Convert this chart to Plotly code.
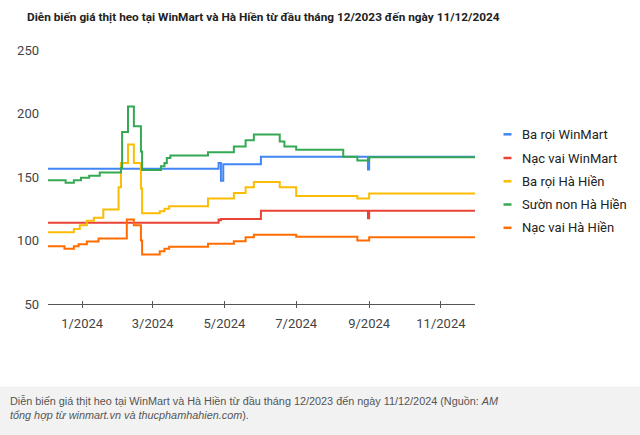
import plotly.graph_objects as go

# ---------------- data ----------------
tick_vals = ["2024-01-01", "2024-03-01", "2024-05-01", "2024-07-01", "2024-09-01", "2024-11-01"]
tick_text = ["1/2024", "3/2024", "5/2024", "7/2024", "9/2024", "11/2024"]

series_names = ["Ba rọi WinMart", "Nạc vai WinMart", "Ba rọi Hà Hiền", "Sườn non Hà Hiền", "Nạc vai Hà Hiền"]
series_colors = ["#4285F4", "#EA4335", "#FBBC04", "#34A853", "#FF6D01"]

ba_roi_wm_dates = ["2023-12-03", "2024-04-26", "2024-04-28", "2024-04-30", "2024-06-01",
                   "2024-08-31", "2024-09-01", "2024-11-30"]
ba_roi_wm_vals = [156.5, 161, 147, 160, 166, 156, 166, 166]

nac_vai_wm_dates = ["2023-12-03", "2024-04-26", "2024-04-27", "2024-04-28", "2024-06-01",
                    "2024-08-31", "2024-09-01", "2024-11-30"]
nac_vai_wm_vals = [114, 116.5, 116, 117, 123.5, 117.5, 123.5, 123.5]

ba_roi_hh_dates = ["2023-12-03", "2023-12-25", "2023-12-30", "2024-01-05", "2024-01-11", "2024-01-19",
                   "2024-02-01", "2024-02-03", "2024-02-09", "2024-02-14", "2024-02-20", "2024-02-21",
                   "2024-03-07", "2024-03-11", "2024-03-15", "2024-04-17", "2024-05-09", "2024-05-19",
                   "2024-05-26", "2024-06-17", "2024-07-01", "2024-08-22", "2024-09-01", "2024-11-30"]
ba_roi_hh_vals = [106.5, 109, 112, 115.5, 118, 124.5,
                  142, 161, 175.5, 161, 141, 121.5,
                  123, 125, 127, 133, 137.5, 142,
                  146, 142, 135, 133, 137, 137]

suon_non_hh_dates = ["2023-12-03", "2023-12-18", "2023-12-25", "2023-12-31", "2024-01-07", "2024-01-16",
                     "2024-02-03", "2024-02-04", "2024-02-09", "2024-02-14", "2024-02-20", "2024-02-21",
                     "2024-03-08", "2024-03-11", "2024-03-13", "2024-03-16", "2024-04-17", "2024-05-09",
                     "2024-05-19", "2024-05-26", "2024-06-17", "2024-06-21", "2024-07-01", "2024-08-10",
                     "2024-08-22", "2024-09-01", "2024-11-30"]
suon_non_hh_vals = [147.5, 145.5, 147.5, 149.5, 151, 153.5,
                    157, 185.5, 205.5, 190, 170, 155.5,
                    158.5, 161, 165, 167, 169.5, 174,
                    179, 183.5, 178, 174, 171.5, 166,
                    163, 165.5, 165.5]

nac_vai_hh_dates = ["2023-12-03", "2023-12-17", "2023-12-25", "2023-12-29", "2024-01-05", "2024-01-15",
                    "2024-02-08", "2024-02-14", "2024-02-20", "2024-02-21", "2024-03-07", "2024-03-11",
                    "2024-03-15", "2024-04-17", "2024-05-09", "2024-05-19", "2024-05-26", "2024-07-01",
                    "2024-08-22", "2024-09-01", "2024-11-30"]
nac_vai_hh_vals = [95.5, 93.5, 95.5, 97, 99.3, 101.5,
                   116.5, 112, 100, 89, 91.5, 93.5,
                   95, 97.5, 99.5, 102.5, 104.5, 103,
                   100, 102.5, 102.5]

all_dates = [ba_roi_wm_dates, nac_vai_wm_dates, ba_roi_hh_dates, suon_non_hh_dates, nac_vai_hh_dates]
all_vals = [ba_roi_wm_vals, nac_vai_wm_vals, ba_roi_hh_vals, suon_non_hh_vals, nac_vai_hh_vals]

title_text = "Diễn biến giá thịt heo tại WinMart và Hà Hiền từ đầu tháng 12/2023 đến ngày 11/12/2024"
caption_text = ("Diễn biến giá thịt heo tại WinMart và Hà Hiền từ đầu tháng 12/2023 đến ngày 11/12/2024 (Nguồn: <i>AM</i>"
                "<br><i>tổng hợp từ winmart.vn và thucphamhahien.com</i>).")

# ---------------- figure ----------------
W, H = 640, 435
ML, MR, MT, MB = 48, 165, 50, 131
PW, PH = W - ML - MR, H - MT - MB


def px_x(px):
    return (px - ML) / PW


def px_y(py):
    return (H - MB - py) / PH


fig = go.Figure()
for name, color, d, v in zip(series_names, series_colors, all_dates, all_vals):
    fig.add_trace(go.Scatter(x=d, y=v, mode="lines", name=name,
                             line=dict(color=color, width=2, shape="hv"),
                             showlegend=False, hoverinfo="skip"))

# manual legend
legend_y = [134.3, 158, 181.3, 204.5, 227.8]
shapes = []
annotations = []
for name, color, ly in zip(series_names, series_colors, legend_y):
    shapes.append(dict(type="line", xref="paper", yref="paper",
                       x0=px_x(503.5), x1=px_x(511.5), y0=px_y(ly), y1=px_y(ly),
                       line=dict(color=color, width=2.5)))
    annotations.append(dict(xref="paper", yref="paper", x=px_x(519.5), y=px_y(ly),
                            xanchor="left", yanchor="middle", showarrow=False,
                            text=name, font=dict(family="Roboto", size=13, color="#222222")))

# caption box
shapes.append(dict(type="rect", xref="paper", yref="paper", layer="below",
                   x0=px_x(0), x1=px_x(640), y0=px_y(386.5), y1=px_y(436),
                   fillcolor="#f2f2f2", line=dict(width=0)))
annotations.append(dict(xref="paper", yref="paper", x=px_x(8), y=px_y(407.5),
                        xanchor="left", yanchor="middle", align="left", showarrow=False,
                        text=caption_text,
                        font=dict(family="Liberation Sans", size=10.85, color="#555555")))

fig.update_layout(
    width=W, height=H,
    margin=dict(l=ML, r=MR, t=MT, b=MB, pad=0),
    paper_bgcolor="white", plot_bgcolor="white",
    title=dict(text="<b>" + title_text + "</b>", xref="container", yref="container",
               x=27 / W, y=1 - 17 / H, xanchor="left", yanchor="middle",
               font=dict(family="Roboto", size=11.8, color="#222222")),
    shapes=shapes, annotations=annotations,
    xaxis=dict(type="date", range=["2023-12-03", "2024-11-30"],
               tickmode="array", tickvals=tick_vals, ticktext=tick_text,
               showgrid=False, zeroline=False,
               showline=True, linecolor="#555555", linewidth=1,
               ticks="outside", ticklen=3, tickcolor="#555555", tickwidth=1,
               minor=dict(tickmode="array", tickvals=tick_vals, ticks="inside",
                          ticklen=3, tickcolor="#555555", tickwidth=1, showgrid=False),
               tickfont=dict(family="Roboto", size=13, color="#444444"),
               ticklabelstandoff=4),
    yaxis=dict(range=[50, 250], tickmode="array", tickvals=[50, 100, 150, 200, 250],
               showgrid=False, zeroline=False, showline=False, ticks="",
               tickfont=dict(family="Roboto", size=13, color="#444444"),
               ticklabelstandoff=8),
)

fig.write_html("out.html", config={"displayModeBar": False, "staticPlot": True},
               post_script="document.body.style.margin='0px';")
